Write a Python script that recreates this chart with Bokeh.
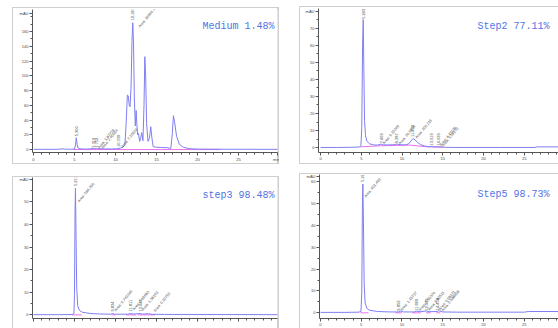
import numpy as np
from bokeh.plotting import figure
from bokeh.layouts import column, row
from bokeh.models import FixedTicker, Range1d
from bokeh.core.properties import value
from bokeh.embed import file_html
from bokeh.resources import INLINE

# ---------------- data (retention time [min], absorbance [mAU]) ----------------
P1_TRACE = [(0, 0.3), (1.0, 0.3), (2.0, 0.3), (3.0, 0.4), (3.6, 0.9), (3.9, 0.5), (4.6, 0.4),
            (5.0, 0.6), (5.12, 6), (5.22, 16), (5.32, 7), (5.45, 2), (5.8, 0.8), (6.5, 0.6),
            (7.0, 1.0), (7.3, 1.8), (7.5, 1.0), (7.7, 1.6), (7.85, 1.0), (8.1, 1.3), (8.6, 0.8),
            (9.5, 0.8), (10.2, 1.0), (10.6, 2.0), (10.9, 3.0), (11.15, 6), (11.3, 35),
            (11.45, 74), (11.55, 73), (11.68, 60), (11.78, 58), (11.9, 85), (12.02, 150),
            (12.11, 172), (12.2, 145), (12.3, 70), (12.42, 32), (12.52, 53), (12.6, 35),
            (12.7, 20), (12.8, 22), (12.95, 11), (13.05, 14), (13.2, 23), (13.35, 12),
            (13.48, 60), (13.58, 126), (13.68, 100), (13.8, 35), (13.97, 11), (14.15, 16),
            (14.3, 31), (14.45, 15), (14.6, 4), (15.0, 3), (15.6, 2.8), (16.3, 2.5),
            (16.75, 1.5), (16.92, 20), (17.07, 46), (17.2, 38), (17.45, 18), (17.8, 7),
            (18.3, 3), (19.0, 1.2), (20.0, 0.6), (22.0, 0.5), (25.0, 0.4), (29.8, 0.3)]
P1_BASE = [[(4.9, 0.0), (22.8, 0.0)]]
P1_RT = [(5.22, 18, "5.300"), (7.3, 2.5, "7.319"), (7.72, 2.5, "7.752"),
         (10.35, 3.5, "10.339"), (12.06, 175, "12.183")]
P1_AREA = [(7.97, 2, "Area: 1.87728"), (8.37, 1.5, "Area: 2.40654"),
           (10.78, 3, "Area: 7.20953"), (12.9, 166, "Area: 10966.1")]

P2_TRACE = [(0, 0.1), (2, 0.1), (3.5, 0.2), (4.6, 0.3), (4.95, 0.6), (5.06, 12), (5.16, 60),
            (5.24, 75), (5.31, 48), (5.4, 16), (5.52, 7), (5.68, 3.8), (6.0, 2.3), (6.5, 1.6),
            (7.0, 1.5), (7.45, 2.1), (7.7, 1.6), (8.3, 1.6), (9.0, 1.7), (9.37, 2.1), (9.8, 1.7),
            (10.4, 1.6), (10.8, 2.2), (11.1, 3.9), (11.35, 5.3), (11.6, 4.6), (11.9, 3.0),
            (12.3, 1.7), (12.8, 0.9), (13.4, 0.5), (13.6, 0.8), (13.9, 0.4), (14.5, 0.6),
            (15.2, 0.2), (17, 0.1), (22, 0.1), (26.2, 0.1), (26.6, 0.45), (29.2, 0.45)]
P2_BASE = [[(5.0, 0.5), (7.3, 1.1), (9.3, 1.3), (10.9, 1.5), (12.8, 0.6), (15.0, 0.2)]]
P2_RT = [(5.24, 75.5, "5.243"), (7.45, 2.6, "7.469"), (9.37, 2.6, "9.387"),
         (11.33, 6.3, "11.452"), (13.58, 1.3, "13.619"), (14.5, 1.3, "14.639")]
P2_AREA = [(7.73, 2.2, "Area: 6.33249"), (9.7, 2.0, "Area: 20.6936"),
           (11.74, 5.6, "Area: 206.216"), (14.72, 1.2, "Area: 4.43126"),
           (15.0, 0.8, "Area: 1.58270")]

P3_TRACE = [(0, 0.1), (3, 0.1), (4.7, 0.15), (4.93, 0.5), (5.0, 9), (5.07, 46), (5.12, 56),
            (5.18, 38), (5.27, 12), (5.4, 4), (5.6, 2), (6.0, 1.1), (7.0, 0.6), (8.0, 0.4),
            (9.4, 0.3), (9.65, 0.6), (9.9, 0.3), (11.5, 0.3), (11.83, 0.6), (12.2, 0.35),
            (13.0, 0.6), (13.3, 0.35), (14.0, 0.5), (14.5, 0.25), (16, 0.2), (29.8, 0.1)]
P3_BASE = [[(4.7, 0.0), (5.9, 0.0)], [(9.5, 0.0), (10.0, 0.0)],
           [(11.3, 0.0), (12.5, 0.0)], [(12.7, 0.0), (14.8, 0.0)]]
P3_RT = [(5.1, 57, "5.213"), (9.62, 1.5, "9.834"), (11.83, 1.5, "11.811"),
         (13.05, 1.5, "13.043")]
P3_AREA = [(5.5, 50, "Area: 584.266"), (9.98, 1.8, "Area: 0.743346"),
           (12.2, 2.2, "Area: 0.69583"), (13.3, 2.0, "Area: 1.38103"),
           (14.76, 1.5, "Area: 0.30750")]

P4_TRACE = [(0, 0.2), (3, 0.2), (4.7, 0.3), (4.97, 0.6), (5.07, 10), (5.14, 48), (5.2, 59),
            (5.27, 42), (5.36, 13), (5.48, 4.5), (5.7, 2), (6.0, 1.2), (7.0, 0.6), (8.5, 0.4),
            (9.6, 0.4), (9.85, 0.8), (10.2, 0.4), (11.5, 0.4), (11.82, 0.75), (12.3, 0.5),
            (12.97, 0.85), (13.3, 0.5), (14.3, 0.6), (14.5, 0.95), (15.0, 0.4), (17, 0.3),
            (25.0, 0.3), (25.5, 0.6), (29.2, 0.6)]
P4_BASE = [[(4.9, 0.0), (5.9, 0.0)], [(9.2, 0.0), (10.0, 0.0)], [(11.25, 0.0), (12.3, 0.0)],
           [(12.95, 0.0), (13.5, 0.0)], [(14.2, 0.0), (14.7, 0.0)]]
P4_RT = [(5.2, 60, "5.213"), (9.57, 1.0, "9.859"), (11.82, 1.0, "11.809"),
         (12.97, 1.0, "12.979"), (14.4, 1.2, "14.458")]
P4_AREA = [(5.48, 53, "Area: 401.493"), (9.9, 1.0, "Area: 1.43737"),
           (12.15, 1.0, "Area: 0.90376"), (13.3, 1.2, "Area: 0.83511"),
           (14.6, 1.4, "Area: 0.98371"), (14.95, 0.8, "Area: 0.588958")]

TITLES = ["Medium 1.48%", "Step2 77.11%", "step3 98.48%", "Step5 98.73%"]

X_MAJOR = [0, 5, 10, 15, 20, 25]
X_MINOR = list(range(0, 31))

# ---------------- styling ----------------
LINE = "#7f7ff2"
PINK = "#ee70ee"
AXC = "#555555"
TXT = "#444444"
TITLE_C = "#5273e4"
BOX = "#cfcfcf"


def make_panel(width, height, margin, borders, xr, yr, box_css):
    p = figure(width=width, height=height, x_range=Range1d(*xr), y_range=Range1d(*yr),
               output_backend="svg", toolbar_location=None,
               min_border_top=borders[0], min_border_right=borders[1],
               min_border_bottom=borders[2], min_border_left=borders[3])
    p.margin = margin
    p.grid.visible = False
    p.outline_line_color = None
    p.background_fill_color = "white"
    p.border_fill_alpha = 0
    p.styles = {"box-shadow": box_css}
    return p


def style_axes(p, xticks, xover, yticks, yminor, yover, xlabels=True):
    p.xaxis.ticker = FixedTicker(ticks=xticks, minor_ticks=X_MINOR)
    p.yaxis.ticker = FixedTicker(ticks=yticks, minor_ticks=yminor)
    p.xaxis.major_label_overrides = xover
    p.yaxis.major_label_overrides = yover
    for ax in (p.xaxis[0], p.yaxis[0]):
        ax.axis_line_color = AXC
        ax.axis_line_width = 1
        ax.major_tick_line_color = AXC
        ax.minor_tick_line_color = AXC
        ax.major_tick_in = 0
        ax.minor_tick_in = 0
        ax.major_tick_out = 3
        ax.minor_tick_out = 2
        ax.major_label_text_font_size = "4px"
        ax.major_label_text_font = "Liberation Sans"
        ax.major_label_text_color = TXT
        ax.major_label_standoff = 1
    if not xlabels:
        p.xaxis.major_label_text_font_size = "1px"
        p.xaxis.major_label_text_alpha = 0


def draw(p, trace, base, rt, area, title, title_xy):
    t, v = zip(*trace)
    xs = [[a for a, _ in seg] for seg in base]
    ys = [[b for _, b in seg] for seg in base]
    p.multi_line(xs, ys, line_color=PINK, line_width=1)
    p.line(list(t), list(v), line_color=LINE, line_width=1)
    rx, ry, rtxt = zip(*rt)
    p.text(list(rx), list(ry), text=list(rtxt), angle=np.pi / 2, text_align="left",
           text_baseline="middle", text_font=value("Liberation Sans"),
           text_font_size=value("4px"), text_color=TXT)
    ax_, ay_, atxt = zip(*area)
    p.text(list(ax_), list(ay_), text=list(atxt), angle=0.88, text_align="left",
           text_baseline="middle", text_font=value("Liberation Sans"),
           text_font_size=value("3.8px"), text_color=TXT)
    p.text([title_xy[0]], [title_xy[1]], text=[title], text_align="right",
           text_baseline="middle", text_font=value("Liberation Mono"),
           text_font_size=value("10px"), text_color=TITLE_C)


# Panel 1 (top left): box x 12-279, y 7-164
p1 = make_panel(267, 157, (7, 0, 0, 12), (1, 2, 10, 20), (-0.12, 29.76), (-4, 190),
                f"inset 1px 0 0 {BOX}, inset -2px 0 0 {BOX}, inset 0 1px 0 {BOX}, inset 0 -1px 0 {BOX}")
style_axes(p1, X_MAJOR + [29.7], {29.7: "min"}, list(range(0, 161, 20)) + [185],
           list(range(0, 181, 10)), {185: "mAU"})
draw(p1, P1_TRACE, P1_BASE, P1_RT, P1_AREA, TITLES[0], (29.4, 167))

# Panel 2 (top right): box x 299-558, y 6-164
p2 = make_panel(259, 158, (6, 0, 0, 20), (2, 0, 9, 19), (-0.25, 29.2), (-2.84, 81.5),
                f"inset 1px 0 0 {BOX}, inset 0 1px 0 {BOX}, inset 0 -1px 0 {BOX}")
style_axes(p2, X_MAJOR, {}, list(range(0, 71, 10)) + [80], list(range(0, 81, 5)), {80: "mAU"})
draw(p2, P2_TRACE, P2_BASE, P2_RT, P2_AREA, TITLES[1], (28.09, 71.2))

# Panel 3 (bottom left): box x 12-279, y 176-328
p3 = make_panel(267, 152, (12, 0, 0, 12), (0, 2, 6, 20), (-0.12, 29.76), (-1.6, 60.8),
                f"inset 1px 0 0 {BOX}, inset -2px 0 0 {BOX}, inset 0 1px 0 {BOX}")
style_axes(p3, X_MAJOR, {}, list(range(0, 51, 10)) + [60], list(range(0, 61, 5)), {60: "mAU"},
           xlabels=False)
draw(p3, P3_TRACE, P3_BASE, P3_RT, P3_AREA, TITLES[2], (29.4, 52.7))

# Panel 4 (bottom right): box x 299-558, y 173-328
p4 = make_panel(259, 155, (9, 0, 0, 20), (1, 0, 10, 20), (-0.12, 29.2), (-2.6, 63.35),
                f"inset 1px 0 0 {BOX}, inset 0 1px 0 {BOX}")
style_axes(p4, X_MAJOR, {}, list(range(0, 61, 10)) + [62.6], list(range(0, 61, 5)),
           {62.6: "mAU"})
draw(p4, P4_TRACE, P4_BASE, P4_RT, P4_AREA, TITLES[3], (28.1, 54.0))

layout = column(row(p1, p2), row(p3, p4))

open("out.html", "w").write(file_html(layout, INLINE))
